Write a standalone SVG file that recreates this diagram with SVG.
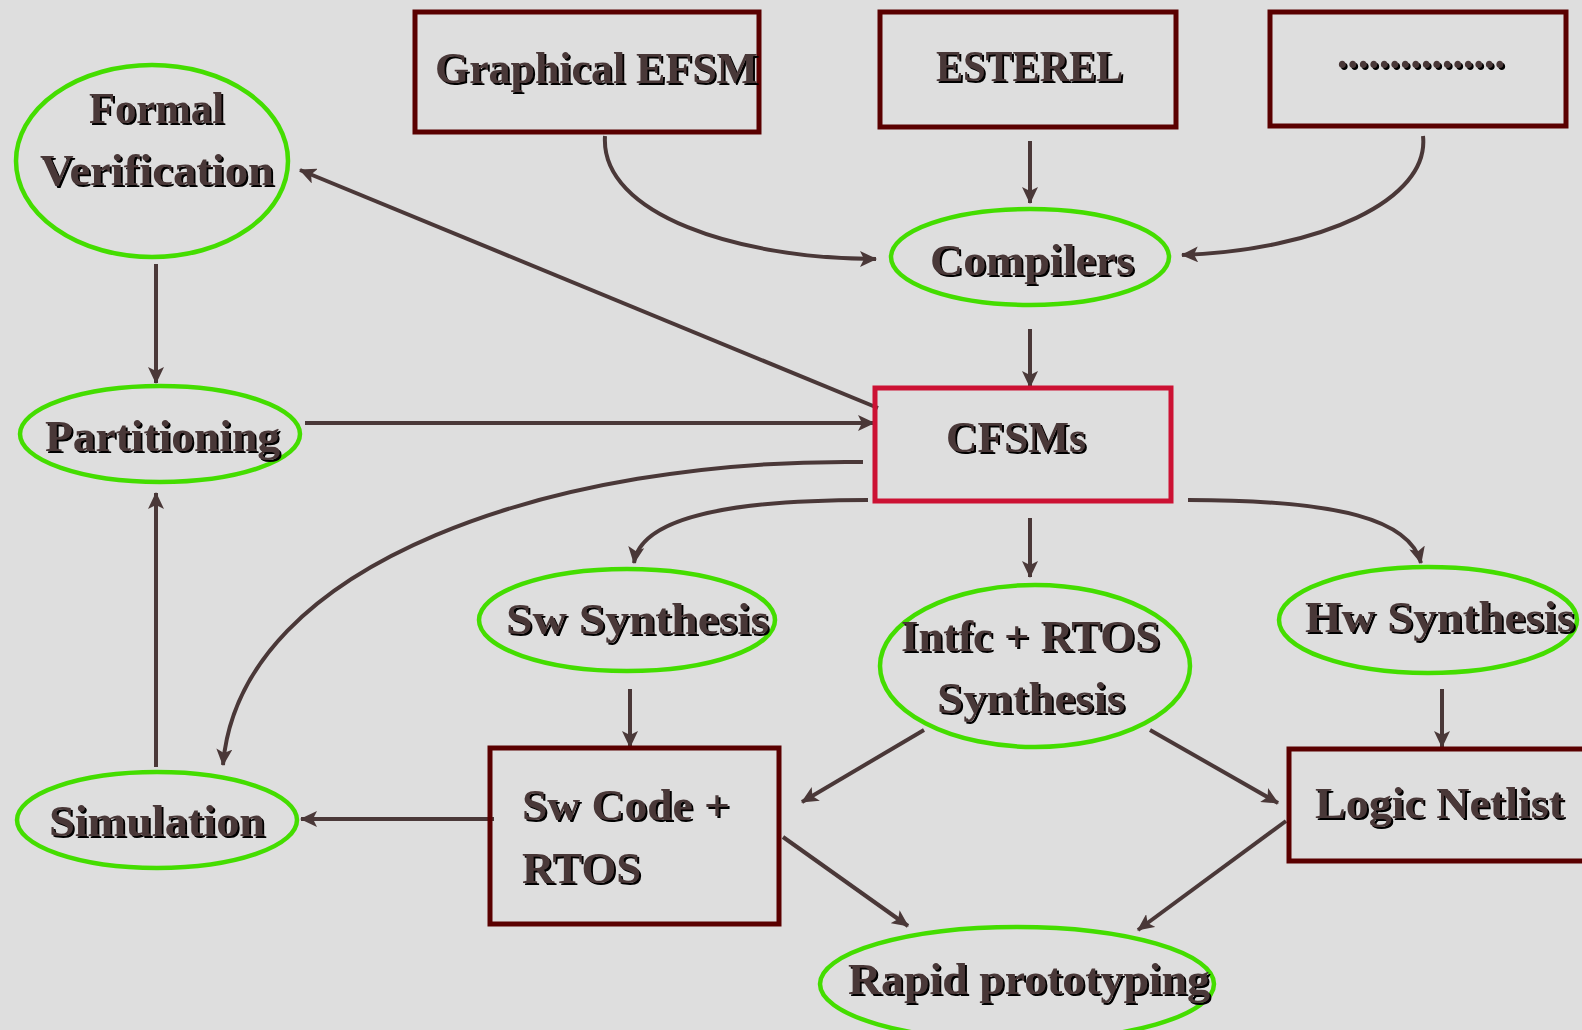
<svg xmlns="http://www.w3.org/2000/svg" width="1582" height="1030" viewBox="0 0 1582 1030">
<defs>
<style>
.bg{fill:#dedede}
.box{fill:none;stroke:#5a0000;stroke-width:5}
.red{fill:none;stroke:#cc1133;stroke-width:5}
.ell{fill:none;stroke:#44dd00;stroke-width:4.5}
.t{font-family:"Liberation Serif","Times New Roman",serif;font-weight:bold;font-size:44px;fill:#4a3838;text-anchor:middle;filter:url(#sh)}
.l{text-anchor:start}
.c{fill:none;stroke:#4a3838;stroke-width:4;marker-end:url(#ah)}
</style>
<filter id="sh" x="-5%" y="-20%" width="110%" height="140%">
<feOffset in="SourceAlpha" dx="1.6" dy="1.6" result="o"/>
<feFlood flood-color="#000"/>
<feComposite in2="o" operator="in" result="s"/>
<feMerge><feMergeNode in="s"/><feMergeNode in="SourceGraphic"/></feMerge>
</filter>
<marker id="ah" markerUnits="userSpaceOnUse" markerWidth="20" markerHeight="16" refX="16" refY="8" orient="auto">
<path d="M0,0 L17,8 L0,16 L4,8 Z" fill="#4a3838"/>
</marker>
</defs>
<rect class="bg" width="1582" height="1030"/>
<g id="connectors">
<path class="c" d="M605,136 C600,215 740,259 876,259"/>
<path class="c" d="M1030,141 L1030,203"/>
<path class="c" d="M1423,136 C1430,200 1320,250 1182,255"/>
<path class="c" d="M1030,329 L1030,387"/>
<path class="c" d="M878,408 L300,170"/>
<path class="c" d="M156,264 L156,383"/>
<path class="c" d="M305,423 L874,423"/>
<path class="c" d="M863,462 C560,458 240,560 223,765"/>
<path class="c" d="M156,767 L156,493"/>
<path class="c" d="M868,500 C720,500 640,520 634,563"/>
<path class="c" d="M1030,518 L1030,577"/>
<path class="c" d="M1188,500 C1340,500 1410,520 1421,563"/>
<path class="c" d="M630,689 L630,747"/>
<path class="c" d="M1442,689 L1442,747"/>
<path class="c" d="M924,730 L802,802"/>
<path class="c" d="M1150,730 L1278,803"/>
<path class="c" d="M494,819 L301,819"/>
<path class="c" d="M783,837 L908,926"/>
<path class="c" d="M1286,821 L1138,930"/>
</g>
<g id="graphical-efsm"><rect class="box" x="415" y="12" width="344" height="120"/><text class="t" x="596.5" y="83" textLength="323" lengthAdjust="spacingAndGlyphs">Graphical EFSM</text></g>
<g id="esterel"><rect class="box" x="880" y="12" width="296" height="115"/><text class="t" x="1029.5" y="81" textLength="187" lengthAdjust="spacingAndGlyphs">ESTEREL</text></g>
<g id="dots"><rect class="box" x="1270" y="12" width="296" height="114"/><text class="t" x="1421" y="68" textLength="168" lengthAdjust="spacingAndGlyphs">................</text></g>
<g id="formal-verification"><ellipse class="ell" cx="152" cy="161" rx="136" ry="96"/><text class="t" x="156.5" y="123" textLength="135" lengthAdjust="spacingAndGlyphs">Formal</text><text class="t" x="157" y="185" textLength="234" lengthAdjust="spacingAndGlyphs">Verification</text></g>
<g id="compilers"><ellipse class="ell" cx="1030" cy="257" rx="139" ry="48"/><text class="t" x="1032" y="275" textLength="204" lengthAdjust="spacingAndGlyphs">Compilers</text></g>
<g id="cfsms"><rect class="red" x="875" y="388" width="296" height="113"/><text class="t" x="1016" y="452" textLength="140" lengthAdjust="spacingAndGlyphs">CFSMs</text></g>
<g id="partitioning"><ellipse class="ell" cx="160" cy="434" rx="140" ry="48"/><text class="t" x="162.5" y="451" textLength="235" lengthAdjust="spacingAndGlyphs">Partitioning</text></g>
<g id="sw-synthesis"><ellipse class="ell" cx="627" cy="620" rx="148" ry="51"/><text class="t" x="637.5" y="634" textLength="263" lengthAdjust="spacingAndGlyphs">Sw Synthesis</text></g>
<g id="intfc-rtos"><ellipse class="ell" cx="1035" cy="666" rx="155" ry="81"/><text class="t" x="1030.5" y="651" textLength="259" lengthAdjust="spacingAndGlyphs">Intfc + RTOS</text><text class="t" x="1031" y="713" textLength="188" lengthAdjust="spacingAndGlyphs">Synthesis</text></g>
<g id="hw-synthesis"><ellipse class="ell" cx="1428" cy="620" rx="149" ry="53"/><text class="t" x="1440" y="632" textLength="270" lengthAdjust="spacingAndGlyphs">Hw Synthesis</text></g>
<g id="sw-code"><rect class="box" x="490" y="748" width="289" height="176"/><text class="t l" x="522" y="820" textLength="208" lengthAdjust="spacingAndGlyphs">Sw Code +</text><text class="t l" x="522" y="883" textLength="119" lengthAdjust="spacingAndGlyphs">RTOS</text></g>
<g id="logic-netlist"><rect class="box" x="1289" y="749" width="300" height="112"/><text class="t" x="1439.5" y="818" textLength="249" lengthAdjust="spacingAndGlyphs">Logic Netlist</text></g>
<g id="simulation"><ellipse class="ell" cx="157" cy="820" rx="140" ry="48"/><text class="t" x="157" y="836" textLength="216" lengthAdjust="spacingAndGlyphs">Simulation</text></g>
<g id="rapid-prototyping"><ellipse class="ell" cx="1017" cy="984" rx="197" ry="57"/><text class="t" x="1029" y="994" textLength="362" lengthAdjust="spacingAndGlyphs">Rapid prototyping</text></g>
</svg>
